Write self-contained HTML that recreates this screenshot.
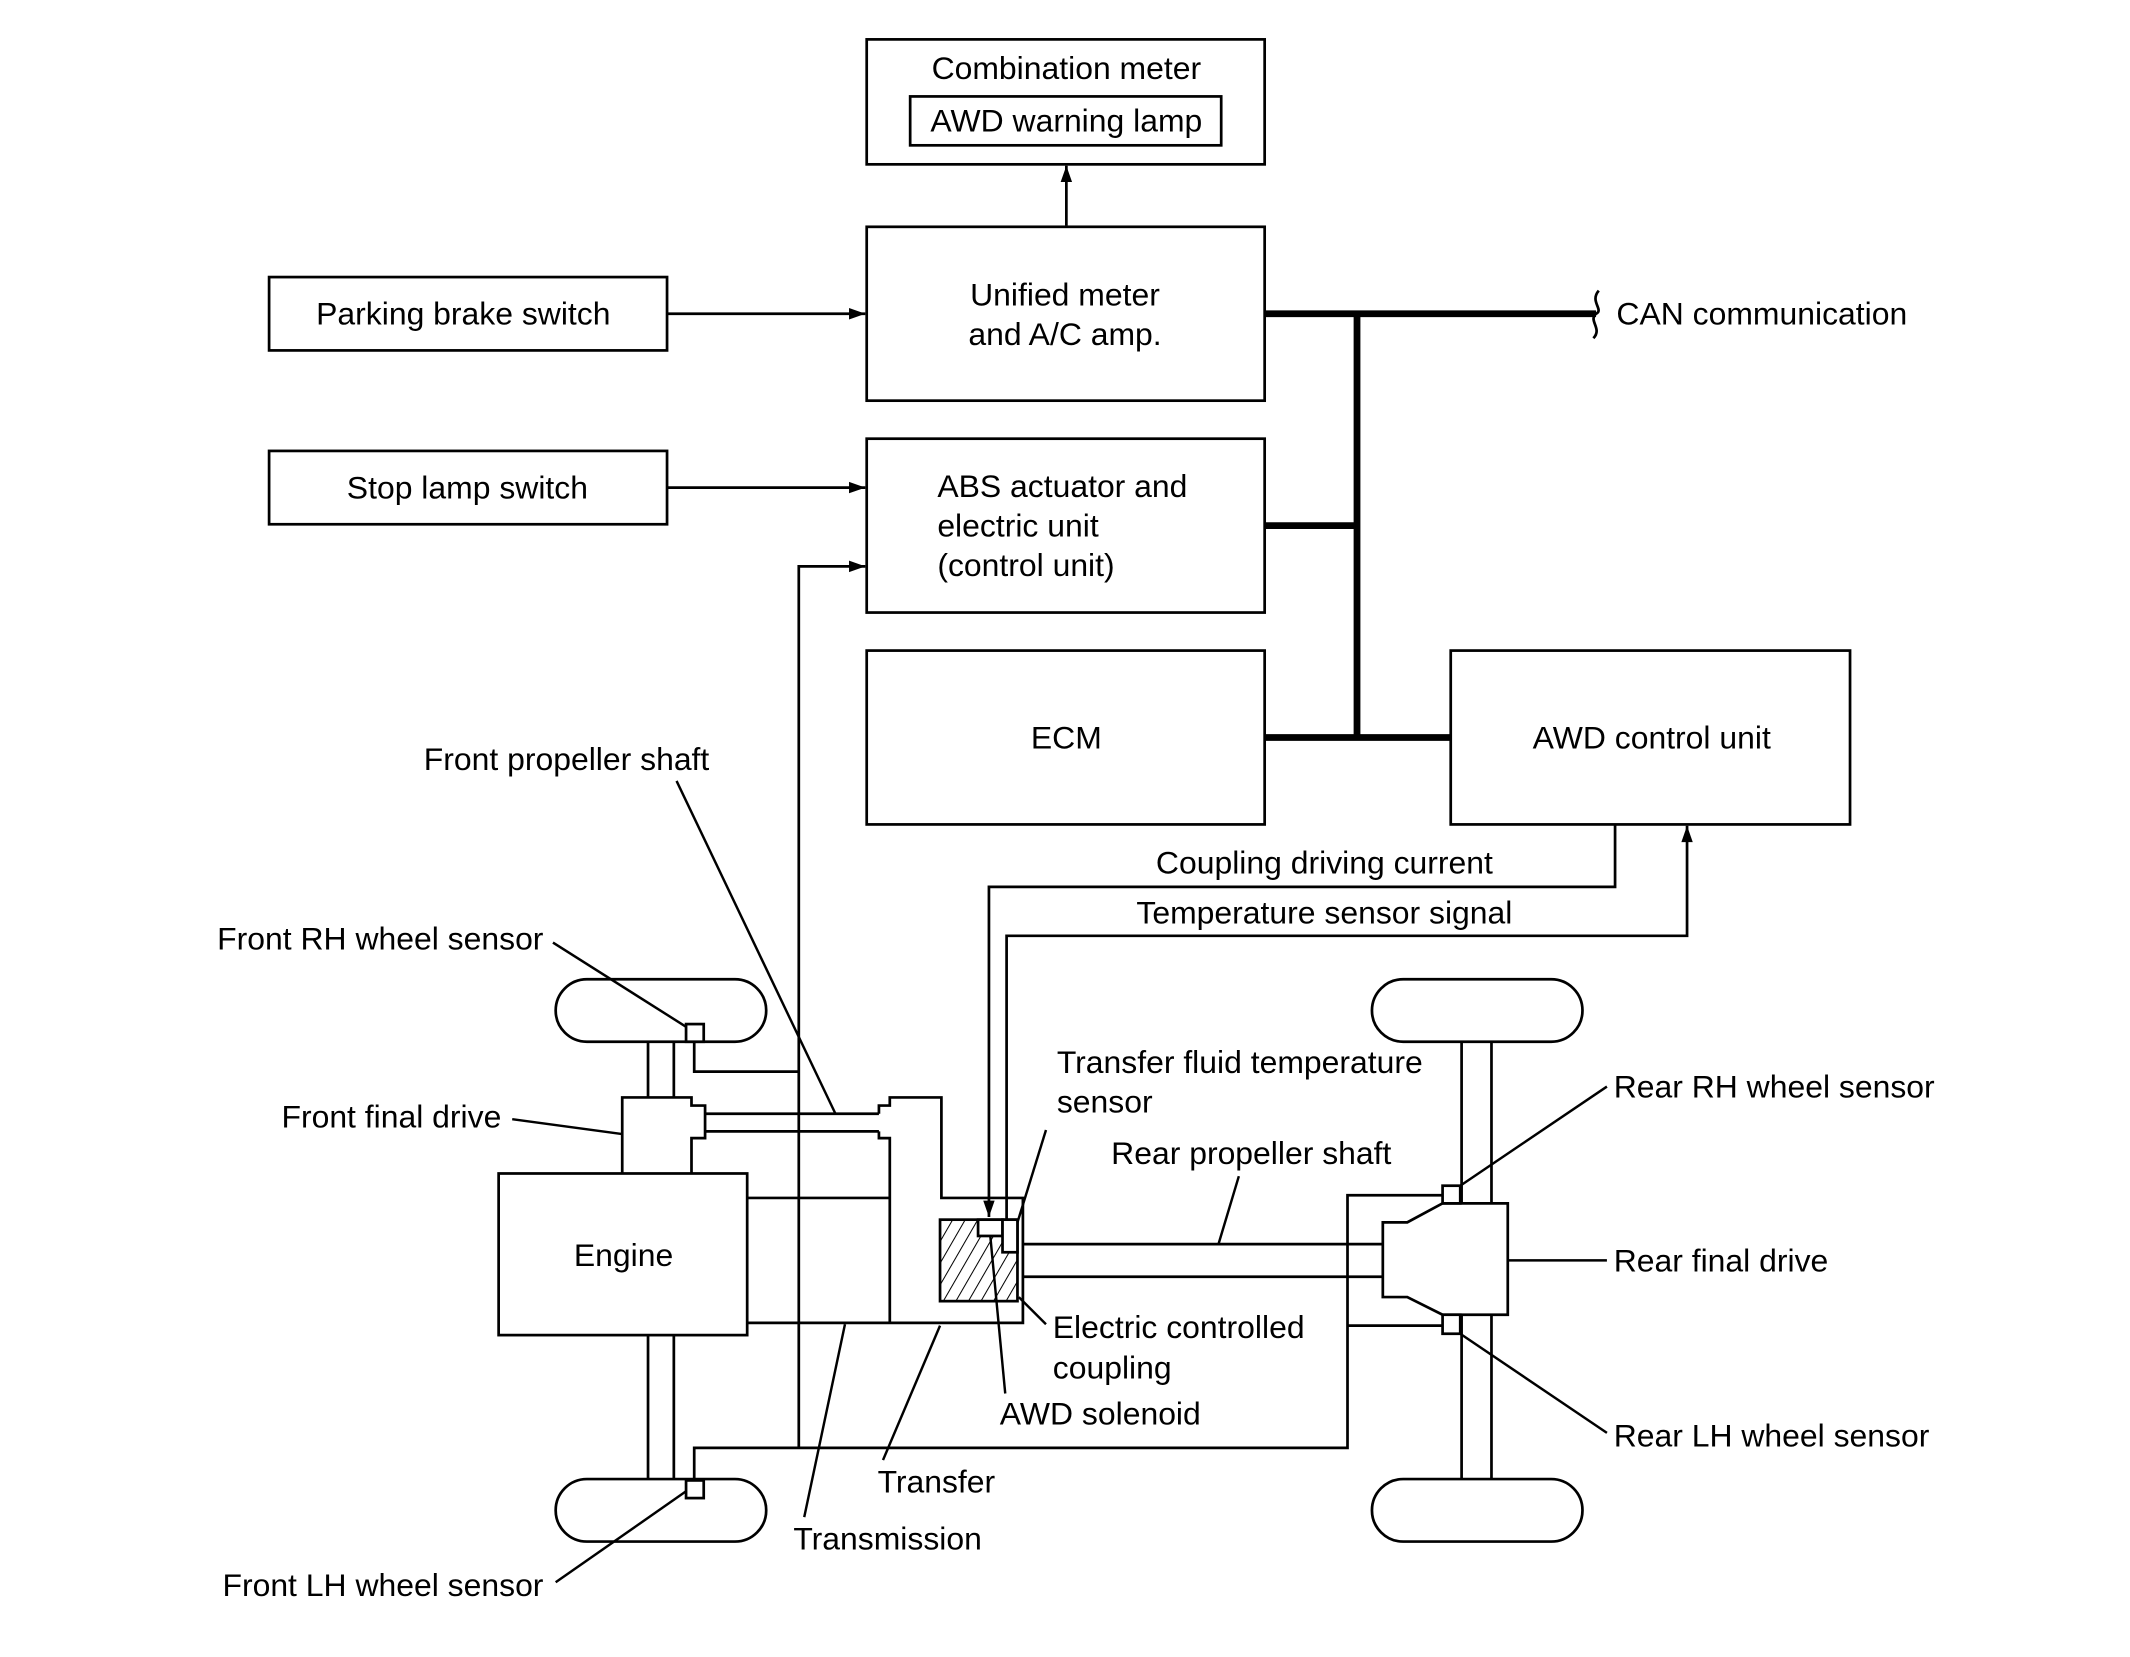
<!DOCTYPE html>
<html><head><meta charset="utf-8"><style>html,body{margin:0;padding:0;background:#fff}svg{display:block}</style></head>
<body>
<svg width="2130" height="1657" viewBox="0 0 1568 1220" xmlns="http://www.w3.org/2000/svg" font-family="Liberation Sans, Arial, sans-serif" font-size="23.5" fill="none" stroke="#000" stroke-width="2">
<defs>
<marker id="b" viewBox="0 0 10 10" refX="10" refY="5" markerWidth="16" markerHeight="12" markerUnits="userSpaceOnUse" orient="auto"><path d="M0,1.5 L10,5 L0,8.5z" fill="#000" stroke="none"/></marker>
<pattern id="h" width="8" height="8" patternUnits="userSpaceOnUse" patternTransform="rotate(30)"><line x1="0" y1="0" x2="0" y2="8" stroke="#000" stroke-width="1.5"/></pattern>
</defs>
<rect x="638" y="29" width="293" height="92"/>
<rect x="670" y="71" width="229" height="36"/>
<rect x="638" y="167" width="293" height="128"/>
<rect x="198" y="204" width="293" height="54"/>
<rect x="198" y="332" width="293" height="54"/>
<rect x="638" y="323" width="293" height="128"/>
<rect x="638" y="479" width="293" height="128"/>
<rect x="1068" y="479" width="294" height="128"/>
<line x1="785" y1="166" x2="785" y2="122" marker-end="url(#b)"/>
<line x1="491" y1="231" x2="637" y2="231" marker-end="url(#b)"/>
<line x1="491" y1="359" x2="637" y2="359" marker-end="url(#b)"/>
<polyline points="588,1066 588,417 637,417" marker-end="url(#b)"/>
<g stroke-width="5">
<line x1="931" y1="231" x2="1175" y2="231"/>
<line x1="999" y1="231" x2="999" y2="543"/>
<line x1="931" y1="387" x2="999" y2="387"/>
<line x1="931" y1="543" x2="1068" y2="543"/>
</g>
<path d="M1177,214 C1170,222 1181,228 1175,231 C1169,236 1180,242 1173,249"/>
<polyline points="1189,607 1189,653 728,653 728,896" marker-end="url(#b)"/>
<polyline points="741,900 741,689 1242,689 1242,608" marker-end="url(#b)"/>
<rect x="409" y="721" width="155" height="46" rx="23"/>
<rect x="409" y="1089" width="155" height="46" rx="23"/>
<rect x="505" y="754" width="13" height="13" fill="#fff"/>
<rect x="505" y="1090" width="13" height="13" fill="#fff"/>
<line x1="477" y1="767" x2="477" y2="808"/><line x1="496" y1="767" x2="496" y2="808"/>
<line x1="477" y1="983" x2="477" y2="1089"/><line x1="496" y1="983" x2="496" y2="1089"/>
<polyline points="511,767 511,789 588,789"/>
<polyline points="511,1090 511,1066 992,1066 992,880 1062,880"/>
<line x1="992" y1="976" x2="1062" y2="976"/>
<path d="M458,864 V808 H509 V814 H519 V838 H509 V864"/>
<line x1="519" y1="820" x2="647" y2="820"/><line x1="519" y1="833" x2="647" y2="833"/>
<path d="M647,820 V814 H655 V808 H693 V882 H753 V974 H550"/>
<path d="M647,833 V838 H655 V974"/>
<line x1="550" y1="882" x2="655" y2="882"/>
<rect x="367" y="864" width="183" height="119" fill="#fff"/>
<rect x="692" y="898" width="57" height="60" fill="url(#h)"/>
<rect x="720" y="898" width="18" height="12" fill="#fff"/>
<rect x="738" y="898" width="11" height="24" fill="#fff"/>
<line x1="753" y1="916" x2="1018" y2="916"/><line x1="753" y1="940" x2="1018" y2="940"/>
<rect x="1010" y="721" width="155" height="46" rx="23"/>
<rect x="1010" y="1089" width="155" height="46" rx="23"/>
<line x1="1076" y1="767" x2="1076" y2="1089"/><line x1="1098" y1="767" x2="1098" y2="1089"/>
<path d="M1018,900 H1036 L1062,886 H1110 V968 H1062 L1036,955 H1018 Z" fill="#fff"/>
<rect x="1062" y="873" width="13" height="13" fill="#fff"/>
<rect x="1062" y="968" width="13" height="14" fill="#fff"/>
<g stroke-width="1.8">
<line x1="498" y1="575" x2="615" y2="820"/>
<line x1="407" y1="694" x2="505" y2="756"/>
<line x1="377" y1="824" x2="458" y2="835"/>
<line x1="770" y1="832" x2="749" y2="900"/>
<line x1="912" y1="866" x2="897" y2="916"/>
<line x1="750" y1="955" x2="770" y2="975"/>
<line x1="729" y1="910" x2="740" y2="1026"/>
<line x1="692" y1="976" x2="650" y2="1075"/>
<line x1="622" y1="975" x2="592" y2="1117"/>
<line x1="409" y1="1165" x2="505" y2="1098"/>
<line x1="1183" y1="800" x2="1075" y2="873"/>
<line x1="1110" y1="928" x2="1183" y2="928"/>
<line x1="1183" y1="1055" x2="1075" y2="982"/>
</g>
<g fill="#000" stroke="none">
<text x="785" y="58" text-anchor="middle">Combination meter</text>
<text x="785" y="97" text-anchor="middle">AWD warning lamp</text>
<text x="784" y="225" text-anchor="middle">Unified meter</text>
<text x="784" y="254" text-anchor="middle">and A/C amp.</text>
<text x="341" y="239" text-anchor="middle">Parking brake switch</text>
<text x="344" y="367" text-anchor="middle">Stop lamp switch</text>
<text x="690" y="366">ABS actuator and</text>
<text x="690" y="395">electric unit</text>
<text x="690" y="424">(control unit)</text>
<text x="785" y="551" text-anchor="middle">ECM</text>
<text x="1216" y="551" text-anchor="middle">AWD control unit</text>
<text x="1190" y="239">CAN communication</text>
<text x="975" y="643" text-anchor="middle">Coupling driving current</text>
<text x="975" y="680" text-anchor="middle">Temperature sensor signal</text>
<text x="417" y="567" text-anchor="middle">Front propeller shaft</text>
<text x="400" y="699" text-anchor="end">Front RH wheel sensor</text>
<text x="369" y="830" text-anchor="end">Front final drive</text>
<text x="459" y="932" text-anchor="middle">Engine</text>
<text x="778" y="790">Transfer fluid temperature</text>
<text x="778" y="819">sensor</text>
<text x="818" y="857">Rear propeller shaft</text>
<text x="775" y="985">Electric controlled</text>
<text x="775" y="1015">coupling</text>
<text x="736" y="1049">AWD solenoid</text>
<text x="646" y="1099">Transfer</text>
<text x="584" y="1141">Transmission</text>
<text x="400" y="1175" text-anchor="end">Front LH wheel sensor</text>
<text x="1188" y="808">Rear RH wheel sensor</text>
<text x="1188" y="936">Rear final drive</text>
<text x="1188" y="1065">Rear LH wheel sensor</text>
</g>
</svg>
</body></html>
